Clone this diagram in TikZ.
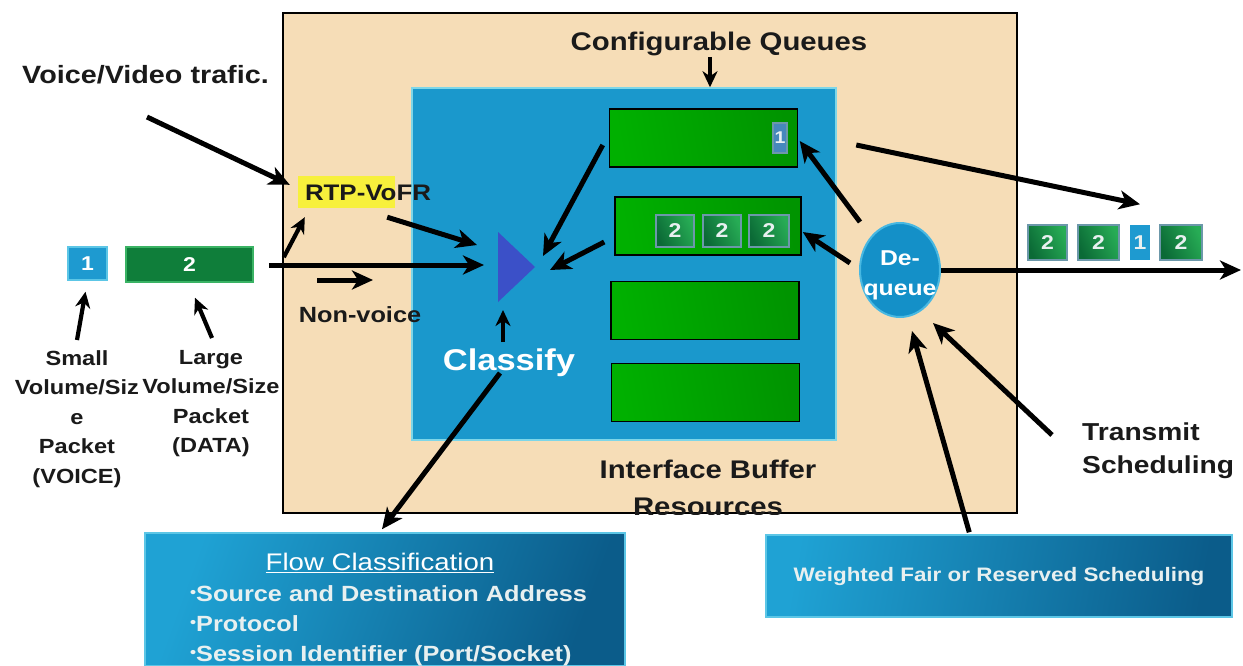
\documentclass[tikz,border=0pt]{standalone}
\usepackage{fontspec}
\setmainfont[FakeStretch=1.15]{Liberation Sans}
\usetikzlibrary{arrows.meta,shapes.geometric,calc}

\definecolor{ink}{HTML}{1A1A1A}
\definecolor{beige}{HTML}{F6DDB7}
\definecolor{panel}{HTML}{1A98CC}
\definecolor{panelrim}{HTML}{7DD6E8}
\definecolor{qgL}{HTML}{00B000}
\definecolor{qgM}{HTML}{00CC00}
\definecolor{qgD}{HTML}{009400}
\definecolor{pgL}{HTML}{0B6A36}
\definecolor{pgM}{HTML}{27AC55}
\definecolor{pkrim}{HTML}{6C98AA}
\definecolor{pkblue}{HTML}{1E9AD0}
\definecolor{pkblue2}{HTML}{4688BC}
\definecolor{trib}{HTML}{3B50C8}
\definecolor{deqfill}{HTML}{1490C8}
\definecolor{deqrim}{HTML}{48B8E2}
\definecolor{hilite}{HTML}{F7F03C}
\definecolor{boxA}{HTML}{1FA2D4}
\definecolor{boxM}{HTML}{1588BC}
\definecolor{boxB}{HTML}{0B5C8A}
\definecolor{boxrim}{HTML}{5CC6E6}
\definecolor{digit}{HTML}{E8F0F0}
\definecolor{inG1}{HTML}{0F7E3A}
\definecolor{inG2}{HTML}{2EB85C}
\definecolor{inGrim}{HTML}{3AB364}

\newcommand\setfs[2]{\fontsize{#1}{#2}\selectfont}
\newcommand\bul{\raisebox{4pt}{\setfs{15}{15}•}}

\tikzset{
  lbl/.style 2 args={inner sep=0pt, text=ink, align=center, font=\bfseries\setfs{#1}{#2}},
  wlbl/.style 2 args={inner sep=0pt, text=white, align=center, font=\bfseries\setfs{#1}{#2}},
  arr/.style={draw=black, line width=5pt, -{Stealth[length=21pt,width=19pt,inset=6pt]}},
  sarr/.style={draw=black, line width=4.2pt, -{Stealth[length=16pt,width=15pt,inset=5pt]}},
  unitbox/.style={draw=black, line width=2.4pt, fill=beige, inner sep=0pt},
  panelbox/.style={draw=panelrim, line width=1.5pt, fill=panel, inner sep=0pt},
  queue/.style={draw=black, line width=1.5pt, inner sep=0pt, minimum width=188pt, minimum height=58pt,
    left color=qgL, middle color=qgM, right color=qgD, shading angle=100},
  pkt/.style={draw=pkrim, line width=2.2pt, inner sep=0pt, minimum height=32pt, text=digit,
    font=\bfseries\setfs{20}{20}, left color=pgL, right color=pgM, shading angle=115},
  bpkt/.style={draw=pkrim, line width=1.5pt, inner sep=0pt, text=digit,
    font=\bfseries\setfs{17}{17}, fill=pkblue2},
  infobox/.style={draw=boxrim, line width=1.5pt, inner sep=0pt,
    left color=boxA, middle color=boxM, right color=boxB, shading angle=70},
}

\begin{document}
\begin{tikzpicture}[x=1pt, y=-1pt]
\useasboundingbox (0,0) rectangle (1243,666);

% router interface with its buffer panel
\node[unitbox, minimum width=734pt, minimum height=500pt] (unit) at (650,263) {};
\node[panelbox, minimum width=424pt, minimum height=352pt] (panel) at (624,264) {};

% the four configurable queues
\node[queue] (q1) at (703.5,138) {};
\node[queue, minimum width=186pt] (q2) at (708,226) {};
\node[queue] (q3) at (705,310.5) {};
\node[queue] (q4) at (705.5,392.5) {};

% packets waiting in the queues
\node[bpkt, minimum width=14pt, minimum height=30pt] (qv) at (780,138) {1};
\node[pkt, minimum width=38pt] (qp1) at (675,231) {2};
\node[pkt, minimum width=38pt] (qp2) at (722,231) {2};
\node[pkt, minimum width=40pt] (qp3) at (769,231) {2};

% classifier
\fill[trib] (498,232) -- (535,267) -- (498,302) -- cycle;
\coordinate (triL) at (498,267);
\coordinate (triR) at (535,267);
\coordinate (triB) at (498,302);

% labels inside the interface
\node[lbl={25.5}{30}] (confq) at (719,44) {Configurable Queues};
\node[fill=hilite, inner sep=0pt, minimum width=97pt, minimum height=32pt] (rtpbox) at (346.5,192) {};
\node[lbl={22.5}{27}] (rtp) at (368,193) {RTP-VoFR};
\node[lbl={22}{27}] (nonvoice) at (360,315) {Non-voice};
\node[wlbl={30}{36}] (classify) at (509,363) {Classify};
\begin{scope}
  \clip (unit.south west) rectangle (unit.north east);
  \node[lbl={25.5}{37}, anchor=north] (ibr) at (708,460) {Interface Buffer\\Resources};
\end{scope}

% de-queue scheduler
\node[ellipse, draw=deqrim, line width=2pt, fill=deqfill, minimum width=80pt, minimum height=94pt, inner sep=0pt] (deq) at (900,270) {};
\node[wlbl={21.5}{30}] (deqtxt) at (900,275) {De-\\queue};

% labels outside
\node[lbl={25}{30}] (voice) at (145.5,75) {Voice/Video trafic.};
\node[lbl={24.5}{33}, anchor=north west, align=left] (transmit) at (1082,423) {Transmit\\Scheduling};
\node[lbl={20.5}{29.5}, anchor=north] (small) at (77,350) {Small\\Volume/Siz\\e\\Packet\\(VOICE)};
\node[lbl={20.5}{29.5}, anchor=north] (large) at (211,350) {Large\\Volume/Size\\Packet\\(DATA)};

% incoming packets
\node[draw=boxrim, line width=1.5pt, fill=pkblue, inner sep=0pt, minimum width=39pt, minimum height=33pt,
      text=white, font=\bfseries\setfs{20}{20}] (pk1in) at (87.5,263.5) {1};
\node[draw=inGrim, line width=1.5pt, inner sep=0pt, minimum width=127pt, minimum height=35pt,
      left color=inG1, middle color=inG2, right color=inG1, shading angle=80,
      text=white, font=\bfseries\setfs{20}{20}] (pk2in) at (189.5,264.5) {2};

% outgoing packets
\node[pkt, minimum width=39pt, minimum height=35pt] (op1) at (1047.5,242.5) {2};
\node[pkt, minimum width=41pt, minimum height=35pt] (op2) at (1098.5,242.5) {2};
\node[bpkt, fill=pkblue, draw=none, minimum width=20pt, minimum height=35pt, font=\bfseries\setfs{20}{20}] (op3) at (1140,242.5) {1};
\node[pkt, minimum width=42pt, minimum height=35pt] (op4) at (1181,242.5) {2};
\coordinate (wire) at (1241,270);

% explanation boxes
\node[infobox, minimum width=480pt, minimum height=133pt] (flowbox) at (385,599.5) {};
\node[inner sep=0pt, text=white, font=\setfs{24}{28}] (flowtitle) at (380,563) {\underline{Flow Classification}};
\node[wlbl={22}{30}, text=digit, align=left, anchor=north west] (flowlist) at (190,585)
  {\bul Source and Destination Address\\\bul Protocol\\\bul Session Identifier (Port/Socket)};
\node[infobox, minimum width=466pt, minimum height=82pt, shading angle=80,
      text=digit, font=\bfseries\setfs{19.5}{24}] (wfbox) at (999,576) {Weighted Fair or Reserved Scheduling};

% connectors
\draw[arr] ($(voice.center)+(1.5,42)$) -- ($(rtpbox.north west)+(-8,9)$);
\draw[arr] ($(pk2in.east)+(15,0.5)$) -- ($(triL)+(-14,-2)$);
\draw[arr] ($(nonvoice.center)+(-43,-35)$) -- ($(nonvoice.center)+(13,-35)$);
\draw[sarr] ($(rtpbox.south west)+(-14,49)$) -- ($(rtpbox.south west)+(7,9)$);
\draw[arr] ($(rtpbox.south east)+(-8,9)$) -- ($(triL)+(-21,-22)$);
\draw[arr] ($(q1.west)+(-6,7)$) -- ($(triR)+(8,-11)$);
\draw[arr] ($(q2.west)+(-10,16)$) -- ($(triR)+(15,3)$);
\draw[sarr] ($(triB)+(5,40)$) -- ($(triB)+(5,8)$);
\draw[arr] ($(classify.center)+(-9,10)$) -- ($(flowbox.north)+(-3,-3)$);
\coordinate (cqtail) at ($(confq.center)+(-9,13)$);
\draw[sarr] (cqtail) -- (cqtail |- panel.north);
\draw[arr] ($(deq.center)+(-40,-48)$) -- ($(q1.east)+(1.5,3)$);
\draw[arr] ($(deq.center)+(-50,-7)$) -- ($(q2.east)+(1,6)$);
\draw[arr] ($(q1.east)+(58,7)$) -- ($(op3.north)+(0,-20)$);
\draw[arr] (deq.east) -- (wire);
\draw[arr] ($(wfbox.north west)+(204,-2)$) -- ($(deq.south)+(12,13)$);
\draw[arr] ($(transmit.north west)+(-30,12)$) -- ($(deq.south)+(33,5)$);
\draw[sarr] ($(small.north)+(0,-10)$) -- ($(pk1in.south)+(-2,11)$);
\draw[sarr] ($(large.north)+(1,-12)$) -- ($(pk2in.south)+(5.5,15)$);
\end{tikzpicture}
\end{document}
